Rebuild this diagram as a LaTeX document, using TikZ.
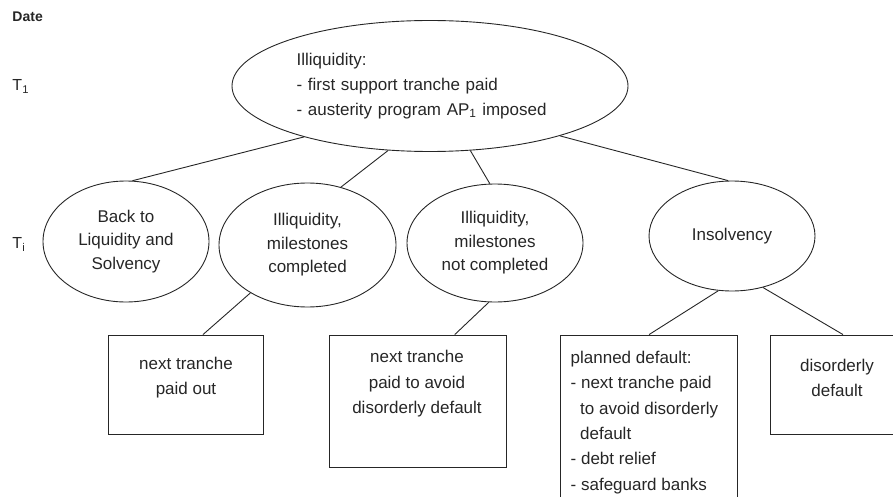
\documentclass[tikz,border=0pt]{standalone}
\usepackage{fontspec}
\setmainfont{Liberation Sans}
\usetikzlibrary{shapes.geometric}
\begin{document}
\begin{tikzpicture}[x=1pt,y=-1pt,
  every node/.style={font=\fontsize{17}{25}\selectfont, inner sep=0pt, text=black!85},
  ell/.style={draw=black!85, ellipse, line width=0.9pt, align=center, font=\fontsize{17}{23.5}\selectfont},
  box/.style={draw=black!85, rectangle, line width=0.9pt},
  con/.style={draw=black!85, line width=0.9pt}]
\useasboundingbox (0,0) rectangle (893,497);
% labels
\node[anchor=base west, font=\bfseries\fontsize{14}{16}\selectfont] (date) at (12.3,21.7) {Date};
\node[anchor=base west, font=\fontsize{16}{18}\selectfont] (tone) at (12.3,90.7) {T\textsubscript{1}};
\node[anchor=base west, font=\fontsize{16}{18}\selectfont] (ti) at (12.3,248.5) {T\textsubscript{i}};
% ellipses
\node[ell, minimum width=396pt, minimum height=131pt, align=left, text width=266.8pt, font=\fontsize{17}{25}\selectfont] (top) at (430,86)
  {Illiquidity:\\- first support tranche paid\\- austerity program AP\textsubscript{1} imposed};
\node[ell, minimum width=166pt, minimum height=121pt] (a) at (126,241.5) {Back to\\Liquidity and\\Solvency};
\node[ell, minimum width=177pt, minimum height=124pt] (b) at (307.5,245) {Illiquidity,\\milestones\\completed};
\node[ell, minimum width=176pt, minimum height=118pt] (c) at (495,243) {Illiquidity,\\milestones\\not completed};
\node[ell, minimum width=166pt, minimum height=110pt] (d) at (732,236) {Insolvency};
% boxes
\node[box, minimum width=155pt, minimum height=99pt] (b1) at (185.8,384.5) {};
\node[box, minimum width=176.5pt, minimum height=132.7pt] (b2) at (417.75,401.35) {};
\node[box, minimum width=176.8pt, minimum height=175pt] (b3) at (649.1,422.5) {};
\node[box, minimum width=132.3pt, minimum height=99pt] (b4) at (836.85,384.5) {};
% box texts
\node[align=center] (t1) at (186,378) {next tranche\\paid out};
\node[align=center, font=\fontsize{17}{25.5}\selectfont] (t2) at (417,383.7) {next tranche\\paid to avoid\\disorderly default};
\node[align=left, anchor=west, font=\fontsize{17}{25.3}\selectfont] (t3) at (570.5,422.5)
  {planned default:\\- next tranche paid\\\hspace*{9.5pt}to avoid disorderly\\\hspace*{9.5pt}default\\- debt relief\\- safeguard banks};
\node[align=center] (t4) at (837,377.5) {disorderly\\default};
% connectors
\draw[con] (top.202) -- (a.84);
\draw[con] (top.237) -- (b.60);
\draw[con] (top.302) -- (c.95);
\draw[con] (top.339) -- (d.94);
\draw[con] (b.220) -- (b1.71);
\draw[con] (c.264) -- (b2.61);
\draw[con] (d.256) -- (b3.90);
\draw[con] (d.301) -- (b4.83);
\end{tikzpicture}
\end{document}
